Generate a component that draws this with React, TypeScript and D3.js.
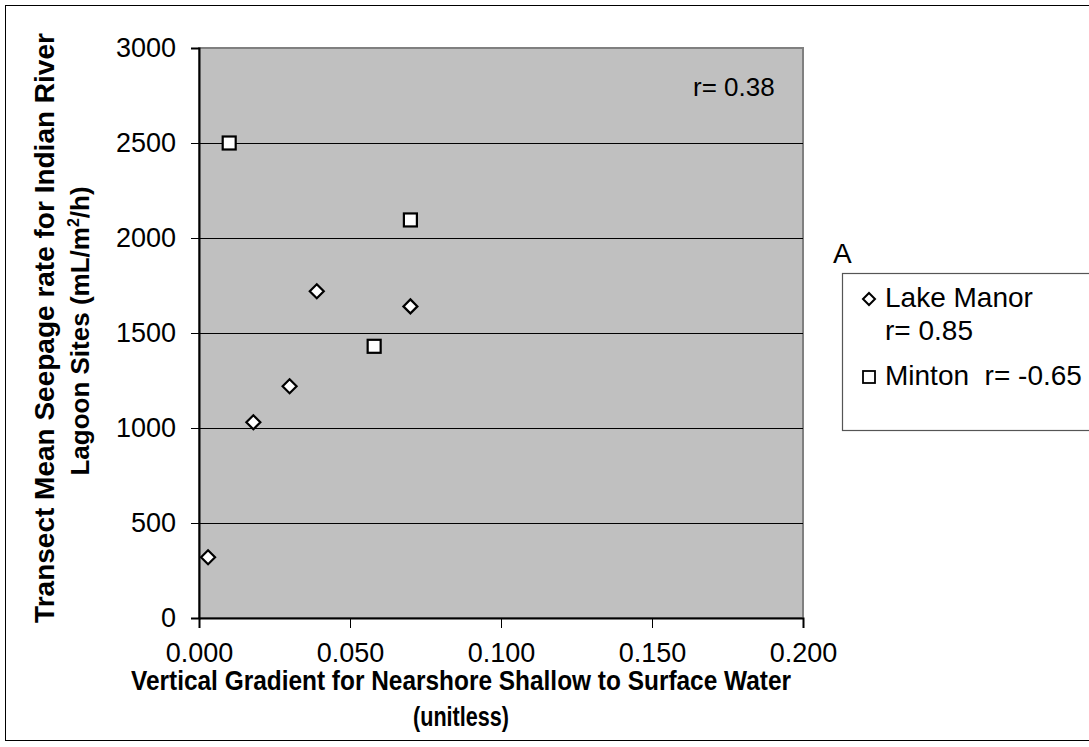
import { useEffect, useRef } from 'react';
import * as d3 from 'd3';

// Lake Manor (diamonds)
const lakeManorX = [0.003, 0.018, 0.030, 0.039, 0.070];
const lakeManorY = [320, 1030, 1220, 1720, 1640];

// Minton (squares)
const mintonX = [0.010, 0.070, 0.058];
const mintonY = [2500, 2095, 1430];

const xTicks = [0, 0.05, 0.1, 0.15, 0.2];
const yTicks = [0, 500, 1000, 1500, 2000, 2500, 3000];

const FONT = 'Liberation Sans, Arial, sans-serif';

export default function App() {
  const svgRef = useRef<SVGSVGElement>(null);
  const width = 1089;
  const height = 747;

  useEffect(() => {
    if (!svgRef.current) return;
    const svg = d3.select(svgRef.current);
    svg.selectAll('*').remove();

    const plot = { left: 199, right: 803, top: 48, bottom: 618 };

    const x = d3.scaleLinear().domain([0, 0.2]).range([plot.left, plot.right]);
    const y = d3.scaleLinear().domain([0, 3000]).range([plot.bottom, plot.top]);

    // outer frame
    svg.append('rect')
      .attr('x', 5.5).attr('y', 5.5)
      .attr('width', 1100).attr('height', 735)
      .attr('fill', 'white').attr('stroke', 'black').attr('stroke-width', 1);

    // plot area
    svg.append('rect')
      .attr('x', plot.left).attr('y', plot.top)
      .attr('width', plot.right - plot.left).attr('height', plot.bottom - plot.top)
      .attr('fill', '#c0c0c0').attr('stroke', '#808080').attr('stroke-width', 2);

    // gridlines
    svg.append('g')
      .selectAll('line')
      .data(yTicks.filter(t => t > 0 && t < 3000))
      .join('line')
      .attr('x1', plot.left).attr('x2', plot.right)
      .attr('y1', d => Math.round(y(d)) + 0.5).attr('y2', d => Math.round(y(d)) + 0.5)
      .attr('stroke', 'black').attr('stroke-width', 1);

    // y axis
    const yAxis = svg.append('g').attr('transform', `translate(${plot.left},0)`)
      .call(d3.axisLeft(y).tickValues(yTicks).tickSize(8).tickPadding(15).tickFormat(d3.format('d')));
    yAxis.select('.domain').attr('stroke', 'black').attr('stroke-width', 2);
    yAxis.selectAll('line').attr('stroke', 'black');
    yAxis.selectAll('text').attr('font-family', FONT).attr('font-size', 27).attr('fill', 'black');

    // x axis
    const xAxis = svg.append('g').attr('transform', `translate(0,${plot.bottom})`)
      .call(d3.axisBottom(x).tickValues(xTicks).tickSize(10).tickPadding(15).tickFormat(d3.format('.3f')));
    xAxis.select('.domain').attr('stroke', 'black').attr('stroke-width', 2);
    xAxis.selectAll('line').attr('stroke', 'black');
    xAxis.selectAll('text').attr('font-family', FONT).attr('font-size', 27).attr('fill', 'black');

    // Lake Manor diamonds
    const diamond = 'M0,-7 L7,0 L0,7 L-7,0 Z';
    svg.append('g')
      .selectAll('path')
      .data(lakeManorX.map((v, i) => [v, lakeManorY[i]]))
      .join('path')
      .attr('d', diamond)
      .attr('transform', d => `translate(${x(d[0])},${y(d[1])})`)
      .attr('fill', 'white').attr('stroke', 'black').attr('stroke-width', 2.2);

    // Minton squares
    svg.append('g')
      .selectAll('rect')
      .data(mintonX.map((v, i) => [v, mintonY[i]]))
      .join('rect')
      .attr('x', d => x(d[0]) - 6.5).attr('y', d => y(d[1]) - 6.5)
      .attr('width', 13).attr('height', 13)
      .attr('fill', 'white').attr('stroke', 'black').attr('stroke-width', 2.2);

    // overall r
    svg.append('text')
      .attr('x', 693).attr('y', 96)
      .attr('font-family', FONT).attr('font-size', 26)
      .text('r= 0.38');

    // axis titles
    svg.append('text')
      .attr('x', 461).attr('y', 690)
      .attr('text-anchor', 'middle')
      .attr('font-family', FONT).attr('font-size', 27).attr('font-weight', 'bold')
      .attr('textLength', 660).attr('lengthAdjust', 'spacingAndGlyphs')
      .text('Vertical Gradient for Nearshore Shallow to Surface Water');
    svg.append('text')
      .attr('x', 461).attr('y', 726)
      .attr('text-anchor', 'middle')
      .attr('font-family', FONT).attr('font-size', 27).attr('font-weight', 'bold')
      .attr('textLength', 96).attr('lengthAdjust', 'spacingAndGlyphs')
      .text('(unitless)');

    const yTitle = svg.append('g').attr('transform', 'translate(0,328) rotate(-90)');
    yTitle.append('text')
      .attr('x', 0).attr('y', 54)
      .attr('text-anchor', 'middle')
      .attr('font-family', FONT).attr('font-size', 28).attr('font-weight', 'bold')
      .text('Transect Mean Seepage rate for Indian River');
    const t2 = yTitle.append('text')
      .attr('x', -3).attr('y', 89)
      .attr('text-anchor', 'middle')
      .attr('font-family', FONT).attr('font-size', 26).attr('font-weight', 'bold');
    t2.append('tspan').text('Lagoon Sites (mL/m');
    t2.append('tspan').attr('dy', -10).attr('font-size', 16).text('2');
    t2.append('tspan').attr('dy', 10).text('/h)');

    // legend
    svg.append('text')
      .attr('x', 833).attr('y', 263)
      .attr('font-family', FONT).attr('font-size', 28)
      .text('A');
    svg.append('rect')
      .attr('x', 842.5).attr('y', 273.5)
      .attr('width', 260).attr('height', 157)
      .attr('fill', 'white').attr('stroke', '#555').attr('stroke-width', 1.2);
    svg.append('path')
      .attr('d', 'M0,-6 L6,0 L0,6 L-6,0 Z')
      .attr('transform', 'translate(869,299)')
      .attr('fill', 'white').attr('stroke', 'black').attr('stroke-width', 2);
    svg.append('rect')
      .attr('x', 863).attr('y', 371).attr('width', 12).attr('height', 12)
      .attr('fill', 'white').attr('stroke', 'black').attr('stroke-width', 1.8);
    const legendLines = [
      { text: 'Lake Manor', y: 307 },
      { text: 'r= 0.85', y: 340 },
      { text: 'Minton  r= -0.65', y: 385 },
    ];
    svg.append('g')
      .selectAll('text')
      .data(legendLines)
      .join('text')
      .attr('x', 885).attr('y', d => d.y)
      .attr('font-family', FONT).attr('font-size', 28)
      .attr('xml:space', 'preserve')
      .style('white-space', 'pre')
      .text(d => d.text);
  }, []);

  return (
    <svg
      ref={svgRef}
      width={width}
      height={height}
      style={{ position: 'absolute', left: 0, top: 0, background: 'white' }}
    />
  );
}
